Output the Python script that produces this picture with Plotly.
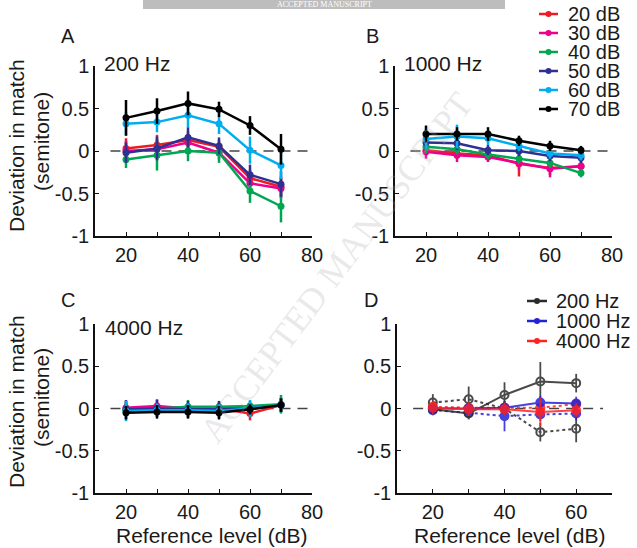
import plotly.graph_objects as go

W, H = 637, 548

# ---------------- data ----------------
levels = [20, 30, 40, 50, 60, 70]
series_names = ["20 dB", "30 dB", "40 dB", "50 dB", "60 dB", "70 dB"]
series_colors = ["#ED1C24", "#EC008C", "#00A651", "#2E3192", "#00AEEF", "#000000"]

# Panel A: 200 Hz
a_20 = [0.03, 0.07, 0.13, 0.05, -0.32, -0.42]
a_30 = [0.00, 0.02, 0.10, -0.02, -0.38, -0.44]
a_40 = [-0.10, -0.05, 0.00, -0.02, -0.47, -0.65]
a_50 = [-0.02, 0.03, 0.16, 0.06, -0.28, -0.39]
a_60 = [0.32, 0.34, 0.42, 0.32, 0.01, -0.17]
a_70 = [0.39, 0.47, 0.56, 0.49, 0.30, 0.02]
a_err_20 = [0.12, 0.12, 0.10, 0.08, 0.10, 0.12]
a_err_30 = [0.12, 0.12, 0.10, 0.08, 0.12, 0.12]
a_err_40 = [0.10, 0.18, 0.12, 0.12, 0.14, 0.19]
a_err_50 = [0.12, 0.14, 0.12, 0.10, 0.12, 0.15]
a_err_60 = [0.14, 0.12, 0.14, 0.12, 0.16, 0.16]
a_err_70 = [0.21, 0.15, 0.14, 0.09, 0.11, 0.18]

# Panel B: 1000 Hz
b_20 = [0.01, -0.03, -0.05, -0.15, -0.20, -0.18]
b_30 = [-0.01, -0.05, -0.07, -0.14, -0.21, -0.18]
b_40 = [0.05, 0.02, -0.04, -0.09, -0.14, -0.26]
b_50 = [0.10, 0.09, 0.01, 0.00, -0.06, -0.08]
b_60 = [0.14, 0.17, 0.15, 0.06, -0.03, -0.05]
b_70 = [0.20, 0.20, 0.20, 0.12, 0.06, 0.01]
b_err_20 = [0.06, 0.06, 0.06, 0.15, 0.08, 0.06]
b_err_30 = [0.08, 0.08, 0.06, 0.08, 0.10, 0.06]
b_err_40 = [0.08, 0.06, 0.06, 0.06, 0.06, 0.05]
b_err_50 = [0.08, 0.08, 0.06, 0.06, 0.06, 0.06]
b_err_60 = [0.12, 0.14, 0.08, 0.06, 0.06, 0.06]
b_err_70 = [0.10, 0.08, 0.08, 0.06, 0.06, 0.05]

# Panel C: 4000 Hz
c_20 = [-0.01, 0.01, 0.00, 0.00, -0.06, 0.04]
c_30 = [0.01, 0.03, 0.00, 0.01, -0.01, 0.04]
c_40 = [-0.01, 0.00, 0.02, 0.02, 0.03, 0.05]
c_50 = [-0.01, 0.00, -0.01, -0.01, 0.00, 0.04]
c_60 = [-0.03, -0.02, -0.02, -0.03, 0.00, 0.04]
c_70 = [-0.05, -0.04, -0.04, -0.05, -0.01, 0.04]
c_err_20 = [0.08, 0.06, 0.06, 0.06, 0.08, 0.08]
c_err_30 = [0.08, 0.08, 0.06, 0.06, 0.06, 0.08]
c_err_40 = [0.08, 0.06, 0.08, 0.06, 0.06, 0.11]
c_err_50 = [0.11, 0.10, 0.10, 0.10, 0.06, 0.08]
c_err_60 = [0.12, 0.08, 0.08, 0.08, 0.10, 0.08]
c_err_70 = [0.08, 0.08, 0.08, 0.08, 0.06, 0.08]

# Panel D
d_levels = [20, 30, 40, 50, 60]
d_names = ["200 Hz", "1000 Hz", "4000 Hz"]
d_colors = ["#2b2b2b", "#2323D6", "#FF2222"]
d_solid_200 = [-0.01, -0.06, 0.16, 0.32, 0.30]
d_dot_200 = [0.07, 0.11, 0.00, -0.28, -0.24]
d_solid_1000 = [0.00, 0.00, 0.01, 0.07, 0.06]
d_dot_1000 = [-0.02, -0.05, -0.09, -0.07, -0.06]
d_solid_4000 = [0.01, -0.01, -0.01, -0.04, -0.02]
d_dot_4000 = [0.02, 0.01, 0.01, 0.01, 0.05]
d_err_solid_200 = [0.06, 0.07, 0.15, 0.23, 0.11]
d_err_dot_200 = [0.10, 0.15, 0.08, 0.11, 0.16]
d_err_solid_1000 = [0.06, 0.06, 0.08, 0.08, 0.08]
d_err_dot_1000 = [0.06, 0.06, 0.18, 0.08, 0.08]
d_err_solid_4000 = [0.08, 0.08, 0.08, 0.17, 0.08]
d_err_dot_4000 = [0.06, 0.06, 0.06, 0.06, 0.06]

y_tickvals = [-1, -0.5, 0, 0.5, 1]
y_ticktext = ["-1", "-0.5", "0", "0.5", "1"]
x_tickvals = [20, 30, 40, 50, 60, 70, 80]
x_ticktext = ["20", "", "40", "", "60", "", "80"]
xd_tickvals = [20, 30, 40, 50, 60, 70]
xd_ticktext = ["20", "", "40", "", "60", ""]

panel_titles = ["200 Hz", "1000 Hz", "4000 Hz"]
panel_letters = ["A", "B", "C", "D"]

FONT = "Liberation Sans, Arial, Helvetica, sans-serif"
TXT = "#1a1a1a"


def px(x):
    return x / W


def py(y):
    return 1 - y / H


fig = go.Figure()

panels = [
    ("x", "y", [a_20, a_30, a_40, a_50, a_60, a_70],
     [a_err_20, a_err_30, a_err_40, a_err_50, a_err_60, a_err_70]),
    ("x2", "y2", [b_20, b_30, b_40, b_50, b_60, b_70],
     [b_err_20, b_err_30, b_err_40, b_err_50, b_err_60, b_err_70]),
    ("x3", "y3", [c_20, c_30, c_40, c_50, c_60, c_70],
     [c_err_20, c_err_30, c_err_40, c_err_50, c_err_60, c_err_70]),
]

for xa, ya, vals, errs in panels:
    for name, col, v, e in zip(series_names, series_colors, vals, errs):
        fig.add_trace(go.Scatter(
            x=levels, y=v, xaxis=xa, yaxis=ya, mode="lines+markers",
            name=name, showlegend=False,
            line=dict(color=col, width=2.5),
            marker=dict(color=col, size=7),
            error_y=dict(type="data", array=e, color=col, thickness=2.5, width=0),
        ))

d_solid = [d_solid_200, d_solid_1000, d_solid_4000]
d_dot = [d_dot_200, d_dot_1000, d_dot_4000]
d_err_s = [d_err_solid_200, d_err_solid_1000, d_err_solid_4000]
d_err_d = [d_err_dot_200, d_err_dot_1000, d_err_dot_4000]
for i in range(3):
    col = d_colors[i]
    sym = "circle-open" if i == 0 else "circle"
    fig.add_trace(go.Scatter(
        x=d_levels, y=d_dot[i], xaxis="x4", yaxis="y4", mode="lines+markers",
        showlegend=False, opacity=0.85,
        line=dict(color=col, width=2, dash="dot"),
        marker=dict(color=col, size=8, symbol=sym, line=dict(width=2, color=col)),
        error_y=dict(type="data", array=d_err_d[i], color=col, thickness=1.8, width=0),
    ))
for i in range(3):
    col = d_colors[i]
    sym = "circle-open" if i == 0 else "circle"
    fig.add_trace(go.Scatter(
        x=d_levels, y=d_solid[i], xaxis="x4", yaxis="y4", mode="lines+markers",
        showlegend=False, opacity=0.85,
        line=dict(color=col, width=2),
        marker=dict(color=col, size=8, symbol=sym, line=dict(width=2, color=col)),
        error_y=dict(type="data", array=d_err_s[i], color=col, thickness=1.8, width=0),
    ))

# domains (pixels -> paper)
dom = {
    "A": ([px(95), px(312)], [py(236), py(66)]),
    "B": ([px(395), px(612)], [py(236), py(66)]),
    "C": ([px(95), px(312)], [py(493), py(324)]),
    "D": ([px(397), px(612)], [py(493), py(324)]),
}

axis_common = dict(showline=True, linecolor="#111", linewidth=1.5, ticks="inside",
                   ticklen=4, tickwidth=1, tickcolor="#111", showgrid=False,
                   zeroline=False, automargin=False,
                   tickfont=dict(family=FONT, size=20, color=TXT))

layout = dict(width=W, height=H,
              margin=dict(l=0, r=0, t=0, b=0, pad=0, autoexpand=False),
              plot_bgcolor="white", paper_bgcolor="white", showlegend=False,
              font=dict(family=FONT, color=TXT))

for idx, key in enumerate(["A", "B", "C", "D"]):
    sx = "" if idx == 0 else str(idx + 1)
    xd, yd = dom[key]
    if key == "D":
        xr, tv, tt = [10, 70], xd_tickvals, xd_ticktext
    else:
        xr, tv, tt = [10, 80], x_tickvals, x_ticktext
    layout["xaxis" + sx] = dict(domain=xd, range=xr, tickvals=tv, ticktext=tt,
                                anchor="y" + sx, **axis_common)
    layout["yaxis" + sx] = dict(domain=yd, range=[-1, 1], tickvals=y_tickvals,
                                ticktext=y_ticktext, anchor="x" + sx, **axis_common)

fig.update_layout(**layout)

# dashed zero lines
for idx, (x0, x1) in enumerate([(15, 80), (15, 80), (15, 80), (14.5, 67.5)]):
    sx = "" if idx == 0 else str(idx + 1)
    fig.add_shape(type="line", xref="x" + sx, yref="y" + sx, x0=x0, x1=x1, y0=0, y1=0,
                  line=dict(color="#444", width=1.5, dash="10px,7px"), layer="below")


def note(text, x, y, size=21, xanchor="center", angle=0, family=FONT, color=TXT):
    return dict(text=text, x=px(x), y=py(y), xref="paper", yref="paper",
                xanchor=xanchor, yanchor="middle", showarrow=False, textangle=angle,
                font=dict(size=size, family=family, color=color))


ann = []
# panel letters
for lab, (x, y) in zip(panel_letters, [(68, 36), (372, 36), (68, 300), (371, 300)]):
    ann.append(note(lab, x, y, size=20))
# panel titles
for t, (x, y) in zip(panel_titles, [(102, 64), (402, 64), (103, 327)]):
    ann.append(note(t, x, y, xanchor="left"))
# y titles
for yc in [146, 402]:
    ann.append(note("Deviation in match", 16, yc, angle=-90))
    ann.append(note("(semitone)", 42, yc - 4, angle=-90))
# x titles
for xc in [211, 509]:
    ann.append(note("Reference level (dB)", xc, 535))

shapes = []
# legend 1 (manual)
for i, (name, col) in enumerate(zip(series_names, series_colors)):
    yc = 14 + 19 * i
    shapes.append(dict(type="line", xref="paper", yref="paper", x0=px(539), x1=px(558),
                       y0=py(yc), y1=py(yc), line=dict(color=col, width=2.5)))
    shapes.append(dict(type="circle", xref="paper", yref="paper", x0=px(545.5), x1=px(551.5),
                       y0=py(yc + 3), y1=py(yc - 3), fillcolor=col, line=dict(width=0)))
    ann.append(note(name, 566, yc, size=20, xanchor="left"))
# legend 2 (manual)
for i, (name, col) in enumerate(zip(d_names, d_colors)):
    yc = 301 + 20 * i
    shapes.append(dict(type="line", xref="paper", yref="paper", x0=px(527), x1=px(547),
                       y0=py(yc), y1=py(yc), line=dict(color=col, width=2.5)))
    shapes.append(dict(type="circle", xref="paper", yref="paper", x0=px(534), x1=px(540),
                       y0=py(yc + 3), y1=py(yc - 3), fillcolor=col, line=dict(width=0)))
    ann.append(note(name, 554, yc, size=20, xanchor="left"))

# top banner
shapes.append(dict(type="rect", xref="paper", yref="paper", x0=px(143), x1=px(505),
                   y0=py(9), y1=1, fillcolor="#bdbdbd", line=dict(width=0), layer="below"))
ann.append(note("ACCEPTED MANUSCRIPT", 324, 4.5, size=8,
                family="Liberation Serif, serif", color="white"))
# watermark
ann.append(note("ACCEPTED MANUSCRIPT", 336, 268, size=36, angle=-53,
                family="Liberation Serif, Times New Roman, serif",
                color="rgba(170,170,170,0.25)"))

fig.update_layout(annotations=ann, shapes=list(fig.layout.shapes) + shapes)

fig.write_html(
    "out.html",
    config={"displayModeBar": False},
    post_script="document.body.style.margin='0px';document.body.style.padding='0px';",
)
